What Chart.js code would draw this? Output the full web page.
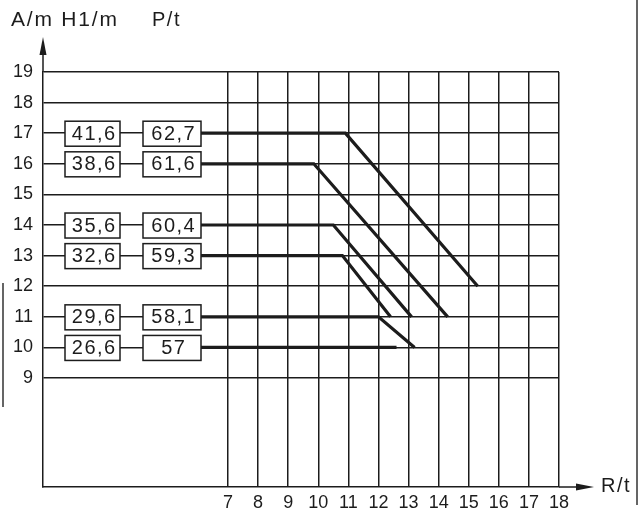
<!DOCTYPE html>
<html>
<head>
<meta charset="utf-8">
<script src="https://cdn.jsdelivr.net/npm/chart.js@4"></script>
<style>
  body { margin: 0; background: #fff; }
  canvas { display: block; }
</style>
</head>
<body>
<canvas id="chart" width="644" height="510"></canvas>
<script>
// levels (A/m) and the two boxed labels on each line
var levels = [17, 16, 14, 13, 11, 10];
var h1Labels = ['41,6', '38,6', '35,6', '32,6', '29,6', '26,6'];
var pLabels = ['62,7', '61,6', '60,4', '59,3', '58,1', '57'];

// curve points (R/t, A/m)
var curveX = [
  [6.1, 10.9, 15.3],
  [6.1, 9.85, 14.3],
  [6.1, 10.5, 13.1],
  [6.1, 10.8, 12.4],
  [6.1, 12.0, 13.2],
  [6.1, 12.6]
];
var curveY = [
  [17, 17, 12],
  [16, 16, 11],
  [14, 14, 11],
  [13, 13, 11],
  [11, 11, 10],
  [10, 10]
];

var xTicks = [7, 8, 9, 10, 11, 12, 13, 14, 15, 16, 17, 18];
var yTicks = [9, 10, 11, 12, 13, 14, 15, 16, 17, 18, 19];

var ink = '#1c1c1c';
var font = '"Liberation Sans", Arial, sans-serif';

var datasets = [];
for (var i = 0; i < curveX.length; i++) {
  var pts = [];
  for (var j = 0; j < curveX[i].length; j++) {
    pts.push({ x: curveX[i][j], y: curveY[i][j] });
  }
  datasets.push({
    data: pts,
    borderColor: ink,
    borderWidth: 3.2,
    pointRadius: 0,
    fill: false,
    tension: 0
  });
}

// text with a little extra room between letters, drawn char by char
function spaced(ctx, text, x, y, gap, centered) {
  var w = 0;
  for (var k = 0; k < text.length; k++) w += ctx.measureText(text[k]).width + gap;
  w -= gap;
  var cx = centered ? x - w / 2 : x;
  ctx.textAlign = 'left';
  for (var k = 0; k < text.length; k++) {
    ctx.fillText(text[k], cx, y);
    cx += ctx.measureText(text[k]).width + gap;
  }
}

// boxes, arrows, axis titles
var extras = {
  id: 'extras',
  afterDatasetsDraw: function (chart) {
    var ctx = chart.ctx;
    var area = chart.chartArea;
    var ys = chart.scales.y;
    var left = area.left;
    ctx.save();
    ctx.strokeStyle = ink;
    ctx.fillStyle = ink;
    ctx.textBaseline = 'middle';

    for (var i = 0; i < levels.length; i++) {
      var py = ys.getPixelForValue(levels[i]);
      ctx.lineWidth = 1.5;
      ctx.fillStyle = '#fff';
      ctx.fillRect(left + 22, py - 12, 55, 25);
      ctx.fillRect(left + 100, py - 12, 58, 25);
      ctx.strokeRect(left + 22, py - 12, 55, 25);
      ctx.strokeRect(left + 100, py - 12, 58, 25);
      ctx.fillStyle = ink;
      ctx.font = '20px ' + font;
      spaced(ctx, h1Labels[i], left + 50.5, py + 1, 1.5, true);
      spaced(ctx, pLabels[i], left + 130, py + 1, 1.5, true);
    }

    // y axis arrow
    ctx.lineWidth = 1.5;
    ctx.beginPath();
    ctx.moveTo(left, area.top);
    ctx.lineTo(left, 50);
    ctx.stroke();
    ctx.beginPath();
    ctx.moveTo(left, 37);
    ctx.lineTo(left - 3.5, 55);
    ctx.lineTo(left + 3.5, 55);
    ctx.closePath();
    ctx.fill();

    // x axis arrow
    var by = area.bottom;
    ctx.beginPath();
    ctx.moveTo(area.right, by);
    ctx.lineTo(580, by);
    ctx.stroke();
    ctx.beginPath();
    ctx.moveTo(594, by);
    ctx.lineTo(576, by - 3.5);
    ctx.lineTo(576, by + 3.5);
    ctx.closePath();
    ctx.fill();

    ctx.font = '20px ' + font;
    spaced(ctx, 'R/t', 601, by - 1, 1.5, false);
    spaced(ctx, 'P/t', 152, 20, 1.5, false);
    ctx.font = '21px ' + font;
    spaced(ctx, 'A/m H1/m', 11, 20, 1.8, false);

    // scan border traces
    ctx.strokeStyle = '#333';
    ctx.lineWidth = 1.5;
    ctx.beginPath();
    ctx.moveTo(637, 0); ctx.lineTo(637, 505);
    ctx.moveTo(3, 283); ctx.lineTo(3, 407);
    ctx.stroke();
    ctx.restore();
  }
};

new Chart(document.getElementById('chart'), {
  type: 'scatter',
  data: { datasets: datasets },
  options: {
    responsive: false,
    animation: false,
    showLine: true,
    layout: { padding: { left: 0, top: 72, right: 85, bottom: 0 } },
    plugins: {
      legend: { display: false },
      tooltip: { enabled: false }
    },
    scales: {
      x: {
        type: 'linear',
        min: 0.85,
        max: 18,
        afterBuildTicks: function (axis) {
          axis.ticks = xTicks.map(function (v) { return { value: v }; });
        },
        afterFit: function (axis) { axis.height = 23; },
        grid: { color: ink, lineWidth: 1.5, drawTicks: false },
        border: { color: ink, width: 1.5 },
        ticks: {
          color: ink,
          padding: 5,
          maxRotation: 0,
          autoSkip: false,
          font: { family: font, size: 18 }
        }
      },
      y: {
        type: 'linear',
        min: 5.44,
        max: 19,
        afterBuildTicks: function (axis) {
          axis.ticks = yTicks.map(function (v) { return { value: v }; });
        },
        afterFit: function (axis) { axis.width = 43; },
        grid: { color: ink, lineWidth: 1.5, drawTicks: false },
        border: { color: ink, width: 1.5 },
        ticks: {
          color: ink,
          padding: 10,
          autoSkip: false,
          font: { family: font, size: 18 }
        }
      }
    }
  },
  plugins: [extras]
});
</script>
</body>
</html>
